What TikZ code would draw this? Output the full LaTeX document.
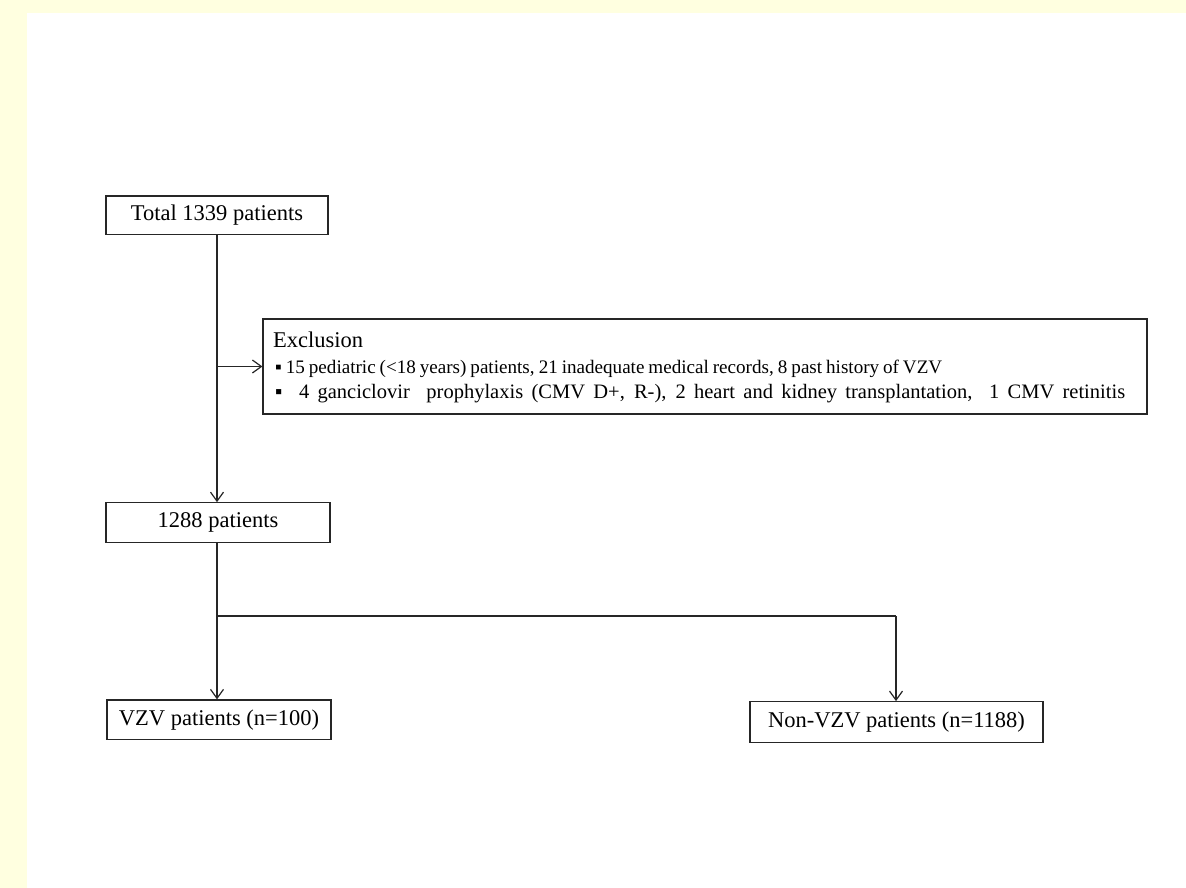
\documentclass[tikz,border=0pt]{standalone}
\usepackage{fontspec}
\setmainfont{Liberation Serif}
\usetikzlibrary{arrows.meta}
\definecolor{yellowbg}{HTML}{FFFFE0}
\definecolor{ink}{HTML}{262626}
\newcommand{\fitline}[2]{\spaceskip=0.25em plus 1em minus 0.1em\relax\makebox[#1][s]{#2}}
\begin{document}
\begin{tikzpicture}[x=1pt,y=-1pt,
  box/.style={draw=ink, line width=1.2pt, inner sep=0pt, text=black,
              font=\fontsize{22.5}{25.5}\selectfont},
  txt/.style={inner sep=0pt, anchor=base west, text=black},
  big/.style={txt, font=\fontsize{22.5}{25.5}\selectfont},
  small/.style={txt, font=\fontsize{19.1}{22}\selectfont},
  mid/.style={txt, font=\fontsize{20.5}{22}\selectfont},
  ln/.style={draw=ink, line width=1.2pt},
  arr/.style={ln, -{Straight Barb[length=9pt,width=13pt,line width=1.2pt]}}]
\useasboundingbox (0,0) rectangle (1186,888);
\fill[white] (0,0) rectangle (1186,888);
\fill[yellowbg] (0,0) rectangle (1186,13);
\fill[yellowbg] (0,0) rectangle (27,888);

\node[box, minimum width=222, minimum height=38.5] (total) at (217,215.2) {Total 1339 patients};
\node[box, minimum width=884, minimum height=95] (excl) at (705,366.5) {};
\node[big] (exT) at (273,347) {Exclusion};
\node[small] (exA) at (275,373) {\fitline{667pt}{▪ 15 pediatric (<18 years) patients, 21 inadequate medical records, 8 past history of VZV}};
\node[mid] (exB) at (275,398.5) {\fitline{850pt}{▪\ \ 4 ganciclovir\ \ prophylaxis (CMV D+, R-), 2 heart and kidney transplantation,\ \ 1 CMV retinitis}};
\node[box, minimum width=224, minimum height=39.5] (p1288) at (218,522.5) {1288 patients};
\node[box, minimum width=224, minimum height=39.5] (vzv) at (219,719.7) {VZV patients (n=100)};
\node[box, minimum width=293, minimum height=41] (nonvzv) at (896.5,722.2) {Non-VZV patients (n=1188)};

\coordinate (split) at (217,616);
\coordinate (corner) at (896,616);

\draw[arr] (total.south) -- (total.south |- p1288.north);
\draw[arr] (total.south |- excl.west) -- (excl.west);
\draw[ln] (split |- p1288.south) -- (split);
\draw[arr] (split) -- (split |- vzv.north);
\draw[ln] (split) -- (corner);
\draw[arr] (corner) -- (corner |- nonvzv.north);
\end{tikzpicture}
\end{document}
